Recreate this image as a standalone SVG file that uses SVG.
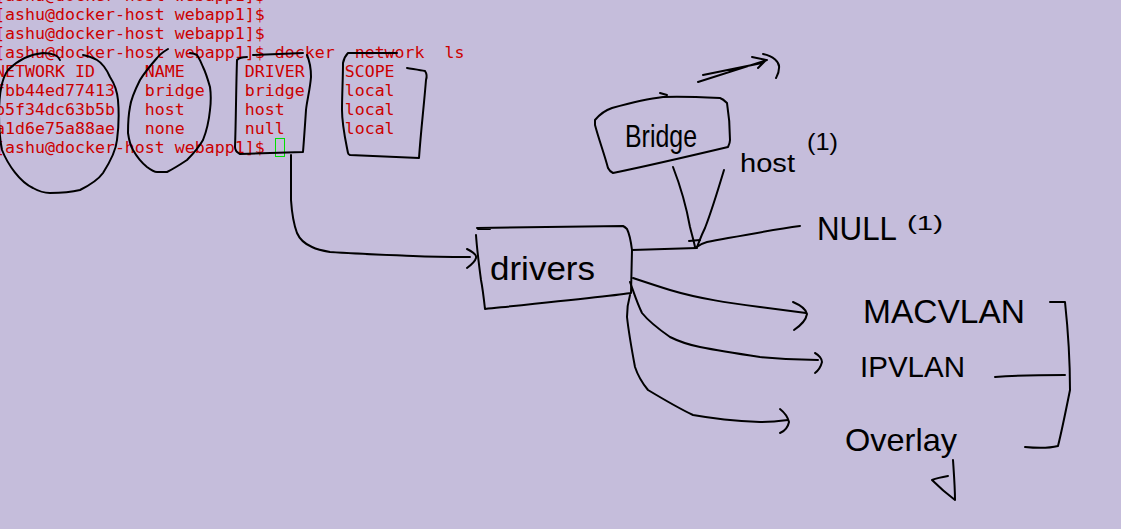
<svg xmlns="http://www.w3.org/2000/svg" width="1121" height="529" viewBox="0 0 1121 529">
<style>
.term{font-family:"DejaVu Sans Mono","Liberation Mono",monospace;font-size:16.6px;fill:#cc0000;white-space:pre}
.ink{fill:none;stroke:#000;stroke-width:2;stroke-linecap:round;stroke-linejoin:round}
.hand{font-family:"Liberation Sans","DejaVu Sans",sans-serif;fill:#000}
</style>
<rect width="1121" height="529" fill="#c5bddb"/>
<g id="terminal">
<text class="term" x="-5" y="1">[ashu@docker-host webapp1]$</text>
<text class="term" x="-5" y="20">[ashu@docker-host webapp1]$</text>
<text class="term" x="-5" y="39">[ashu@docker-host webapp1]$</text>
<text class="term" x="-5" y="58">[ashu@docker-host webapp1]$ docker  network  ls</text>
<text class="term" x="-5" y="77">NETWORK ID     NAME      DRIVER    SCOPE</text>
<text class="term" x="-5" y="96">fbb44ed77413   bridge    bridge    local</text>
<text class="term" x="-5" y="115">b5f34dc63b5b   host      host      local</text>
<text class="term" x="-5" y="134">a1d6e75a88ae   none      null      local</text>
<text class="term" x="-5" y="153">[ashu@docker-host webapp1]$</text>
<rect x="275.5" y="138.5" width="9" height="18" fill="none" stroke="#00e000" stroke-width="1"/>
</g>
<g id="col-marks">
<path class="ink" d="M60,60 C58,55 52,53 43,53 C32,54 20,58 8,70 C2,78 -1,95 -1,115 C-1,130 0,140 2,150 C8,165 20,182 33,188 C40,192 45,193 50,193 C62,193 72,192 80,190 C90,185 98,180 103,173 C110,162 116,150 117,140 C119,125 119,112 118,100 C117,90 114,83 110,77 C106,68 102,63 97,60 C92,57 88,56 83,55"/>
<path class="ink" d="M168,49 C163,52 160,54 157,58 C150,66 145,72 140,80 C135,90 131,98 130,107 C128,117 128,125 128,133 C129,140 130,145 133,150 C137,157 142,163 147,167 C151,170 154,172 157,172 C161,172 164,172 167,172 C175,168 181,164 187,160 C193,154 199,147 203,140 C207,130 209,120 210,110 C211,102 211,94 210,87 C208,80 206,73 203,67 C201,62 199,58 197,55 C195,54 192,53 190,53"/>
<path class="ink" d="M253,55 L303,53 M307,55 C310,62 311,70 311,77 C310,90 307,100 306,110 C305,125 304,140 303,152 L240,154 C236,152 235,150 235,147 C236,120 236,90 237,60 C239,58 243,57 247,57"/>
<path class="ink" d="M348,53 L397,53 M407,68 C413,69 420,70 425,71 C427,74 427,77 426,80 C424,105 421,130 419,158 C395,157 372,156 350,155 C348,154 348,154 348,153 C345,138 342,125 342,110 C342,95 343,78 343,63 C344,58 346,55 348,53"/>
</g>
<g id="connectors">
<path class="ink" d="M291,155 L291,200 C292,215 294,225 297,233 C300,240 305,244 312,247 C318,250 324,251 330,252 C360,254 390,255 413,256 C435,257 455,257 470,257"/>
<path class="ink" d="M467,249 C473,252 477,255 476,258 C475,262 471,265 467,268"/>
<path class="ink" d="M632,250 L697,248"/>
<path class="ink" d="M695,248 C699,245 703,243 707,242 C740,236 770,230 800,226"/>
<path class="ink" d="M673,167 C680,185 686,205 690,227 C692,235 694,242 695,247"/>
<path class="ink" d="M724,170 C718,190 712,210 705,228 C701,236 699,242 697,247"/>
<path class="ink" d="M689,241 L700,240"/>
<path class="ink" d="M698,82 L767,60 M703,75 L762,63 M752,57 L766,60 L758,68 M763,54 C773,56 780,62 779,68 C779,73 777,76 776,78"/>
<path class="ink" d="M633,278 C645,282 657,286 670,290 C700,299 730,303 760,307 C775,309 790,311 806,313"/>
<path class="ink" d="M793,302 C800,305 806,309 807,314 C806,320 800,326 794,330"/>
<path class="ink" d="M630,282 C634,293 637,303 642,313 C650,323 660,330 670,337 C680,342 690,345 700,347 C720,351 740,354 760,357 C780,359 800,360 818,360"/>
<path class="ink" d="M815,353 C819,355 822,359 822,362 C821,366 819,370 815,373"/>
<path class="ink" d="M630,295 C628,302 627,310 627,317 C629,335 632,351 635,367 C638,376 643,384 648,390 C663,399 678,408 693,415 C715,419 738,421 760,422 C770,422 780,421 788,420"/>
<path class="ink" d="M780,409 C785,413 788,418 789,422 C788,427 785,431 780,433"/>
<path class="ink" d="M1050,302 L1065,302 C1068,330 1070,360 1070,390 C1066,410 1062,430 1058,446 C1050,448 1035,448 1025,447 M995,377 C1020,375 1045,375 1065,375"/>
<path class="ink" d="M953,460 C954,475 955,488 955,500 C947,494 939,487 932,480 C937,478 942,477 948,476"/>
</g>
<g id="drivers">
<path class="ink" d="M478,229 L490,229 M477,228 L623,226 C625,227 626,228 627,229 C630,235 631,242 632,250 L631,293 C620,295 610,296 485,309 C484,300 482,285 481,280 C479,265 477,250 476,235"/>
<text class="hand" x="490" y="280" font-size="33" textLength="105" lengthAdjust="spacingAndGlyphs">drivers</text>
</g>
<g id="bridge">
<path class="ink" d="M595,120 C600,114 606,110 612,108 C630,103 645,99 663,97 C680,96 700,97 720,98 C723,99 725,101 727,103 C729,115 730,128 730,140 C730,143 729,145 728,147 C690,156 652,165 613,173 C611,172 609,170 608,168 C604,153 599,140 595,125 Z M660,93 L667,95"/>
<text class="hand" x="625" y="147" font-size="32" textLength="72" lengthAdjust="spacingAndGlyphs">Bridge</text>
</g>
<g id="host">
<text class="hand" x="740" y="172" font-size="26" textLength="55" lengthAdjust="spacingAndGlyphs">host</text>
<text class="hand" x="807" y="150" font-size="24" textLength="31" lengthAdjust="spacingAndGlyphs">(1)</text>
</g>
<g id="null">
<text class="hand" x="817" y="240" font-size="33" textLength="80" lengthAdjust="spacingAndGlyphs">NULL</text>
<text class="hand" x="907" y="230" font-size="20" textLength="36" lengthAdjust="spacingAndGlyphs">(1)</text>
</g>
<g id="macvlan">
<text class="hand" x="863" y="323" font-size="34" textLength="162" lengthAdjust="spacingAndGlyphs">MACVLAN</text>
</g>
<g id="ipvlan">
<text class="hand" x="860" y="377" font-size="29" textLength="105" lengthAdjust="spacingAndGlyphs">IPVLAN</text>
</g>
<g id="overlay">
<text class="hand" x="845" y="451" font-size="32" textLength="112" lengthAdjust="spacingAndGlyphs">Overlay</text>
</g>
</svg>
